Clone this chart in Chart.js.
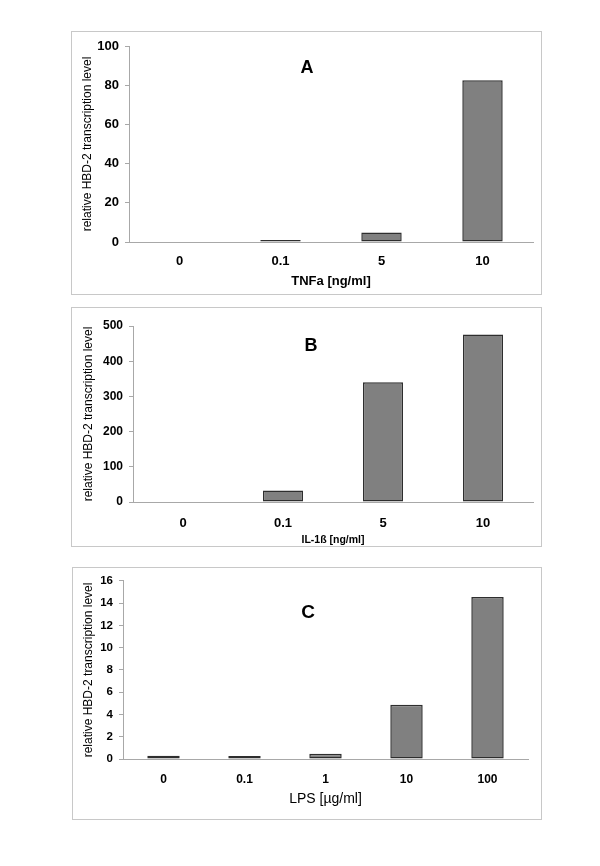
<!DOCTYPE html>
<html>
<head>
<meta charset="utf-8">
<script src="https://cdn.jsdelivr.net/npm/chart.js@4.4.1/dist/chart.umd.min.js"></script>
<style>
  body { margin: 0; background: #fff; width: 600px; height: 866px; position: relative; }
  .panel { position: absolute; border: 1px solid #c8c8c8; background: #fff; }
  canvas { display: block; }
</style>
</head>
<body>
<div class="panel" id="pA" style="left:71px; top:31px;"><canvas id="chartA" width="469" height="262"></canvas></div>
<div class="panel" id="pB" style="left:71px; top:307px;"><canvas id="chartB" width="469" height="238"></canvas></div>
<div class="panel" id="pC" style="left:72px; top:567px;"><canvas id="chartC" width="468" height="251"></canvas></div>
<script>
const categoriesA = ['0', '0.1', '5', '10'];
const valuesA = [0, 1, 4.8, 82.5];

const categoriesB = ['0', '0.1', '5', '10'];
const valuesB = [0, 33, 340, 476];

const categoriesC = ['0', '0.1', '1', '10', '100'];
const valuesC = [0.3, 0.28, 0.47, 4.87, 14.55];

const yTitle = 'relative HBD-2 transcription level';
const fontFamily = '"Liberation Sans", Arial, sans-serif';

// draws the panel letter inside the plot
const letterPlugin = {
  id: 'panelLetter',
  afterDraw(chart, args, opts) {
    const ctx = chart.ctx;
    ctx.save();
    ctx.font = 'bold ' + opts.size + 'px ' + fontFamily;
    ctx.fillStyle = '#000';
    ctx.textAlign = 'center';
    ctx.textBaseline = 'middle';
    ctx.fillText(opts.text, opts.x, opts.y);
    ctx.restore();
  }
};

function makeChart(id, cfg) {
  return new Chart(document.getElementById(id), {
    type: 'bar',
    data: {
      labels: cfg.labels,
      datasets: [{
        data: cfg.values,
        backgroundColor: '#808080',
        borderColor: '#2e2e2e',
        borderWidth: 1.5,
        borderSkipped: false,
        barPercentage: 0.4,
        categoryPercentage: 1
      }]
    },
    options: {
      responsive: false,
      animation: false,
      layout: { padding: { left: 0, top: cfg.top, right: cfg.right, bottom: 0 } },
      plugins: {
        legend: { display: false },
        tooltip: { enabled: false },
        panelLetter: cfg.letter
      },
      scales: {
        x: {
          offset: true,
          grid: { display: false },
          border: { display: true, color: '#a8a8a8', width: 1 },
          ticks: {
            color: '#000',
            padding: cfg.xPad,
            font: { family: fontFamily, size: cfg.xTickSize, weight: 'bold' },
            maxRotation: 0
          },
          title: {
            display: true,
            text: cfg.xTitle,
            color: '#000',
            padding: { top: 0, bottom: cfg.xTitlePad },
            font: { family: fontFamily, size: cfg.xTitleSize, weight: cfg.xTitleWeight }
          },
          afterFit(scale) { scale.height = cfg.xHeight; }
        },
        y: {
          min: 0,
          max: cfg.max,
          ticks: {
            stepSize: cfg.step,
            color: '#000',
            padding: 6,
            font: { family: fontFamily, size: cfg.yTickSize, weight: 'bold' }
          },
          grid: { drawOnChartArea: false, drawTicks: true, tickLength: 4, color: '#a8a8a8' },
          border: { display: true, color: '#a8a8a8', width: 1 },
          title: {
            display: true,
            text: yTitle,
            color: '#000',
            padding: { top: cfg.yTitlePad, bottom: 0 },
            font: { family: fontFamily, size: 12 }
          },
          afterFit(scale) { scale.width = cfg.yWidth; }
        }
      }
    },
    plugins: [letterPlugin]
  });
}

makeChart('chartA', {
  labels: categoriesA, values: valuesA, max: 100, step: 20,
  top: 14, right: 8, xHeight: 52, yWidth: 57,
  xPad: 4, xTickSize: 13, yTickSize: 13,
  xTitle: 'TNFa [ng/ml]', xTitleSize: 13, xTitleWeight: 'bold', xTitlePad: 5,
  yTitlePad: 8,
  letter: { text: 'A', x: 235, y: 36, size: 18 }
});

makeChart('chartB', {
  labels: categoriesB, values: valuesB, max: 500, step: 100,
  top: 18, right: 8, xHeight: 44, yWidth: 61,
  xPad: 6, xTickSize: 13, yTickSize: 12,
  xTitle: 'IL-1ß [ng/ml]', xTitleSize: 10.5, xTitleWeight: 'bold', xTitlePad: 0,
  yTitlePad: 9,
  letter: { text: 'B', x: 239, y: 38, size: 18 }
});

makeChart('chartC', {
  labels: categoriesC, values: valuesC, max: 16, step: 2,
  top: 11, right: 13, xHeight: 60, yWidth: 50,
  xPad: 5, xTickSize: 12, yTickSize: 11.5,
  xTitle: 'LPS [µg/ml]', xTitleSize: 14, xTitleWeight: 'normal', xTitlePad: 11,
  yTitlePad: 8,
  letter: { text: 'C', x: 235, y: 45, size: 19 }
});
</script>
</body>
</html>
